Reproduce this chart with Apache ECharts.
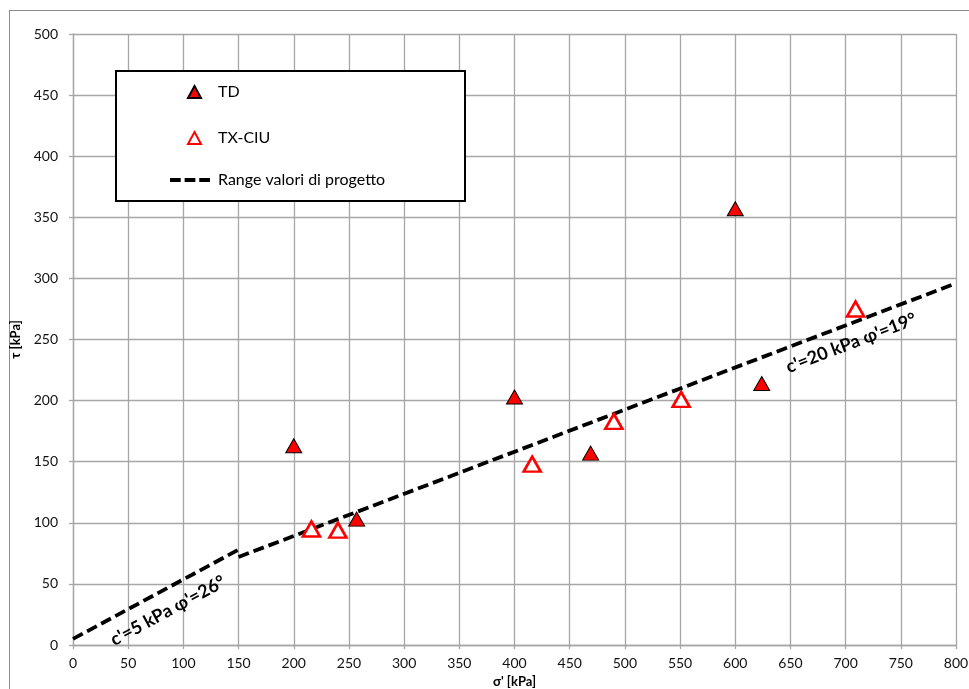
<!DOCTYPE html>
<html>
<head>
<meta charset="utf-8">
<script src="https://cdn.jsdelivr.net/npm/echarts@6/dist/echarts.min.js"></script>
<style>
  html, body { margin: 0; padding: 0; background: #fff; }
  #chart { width: 969px; height: 689px; }
</style>
</head>
<body>
<div id="chart"></div>
<script>
// Shear tests: effective normal stress sigma' vs shear stress tau (kPa)
const tdPoints = [[200, 163], [257, 103], [400, 203], [469, 157], [600, 357], [624, 214]];
const txCiuPoints = [[216, 95], [240, 94], [416, 148], [490, 183], [551, 201], [709, 275]];

// Design envelopes (end points of each segment)
const envelopeLow = [[0, 5], [150, 78]];      // c'=5 kPa, phi'=26°
const envelopeHigh = [[150, 72], [800, 296]]; // c'=20 kPa, phi'=19°

// Envelope captions: [sigma', tau, text, rotation in degrees]
const envelopeLabels = [
  [86, 28, "c'=5 kPa φ'=26°", 28.4],
  [705, 247, "c'=20 kPa φ'=19°", 20.9]
];

const seriesNames = ['TD', 'TX-CIU', 'Range valori di progetto'];
const xTicks = { min: 0, max: 800, interval: 50 };
const yTicks = { min: 0, max: 500, interval: 50 };

const FONT = 'Lato, "Open Sans", sans-serif';
const GRID_COLOR = '#a6a6a6';

const chart = echarts.init(document.getElementById('chart'), null, { renderer: 'canvas' });

const dashedLine = {
  color: '#000',
  width: 3.8,
  type: [11, 5],
  cap: 'butt'
};

const legendText = { fontFamily: FONT, fontSize: 16, color: '#000' };

chart.setOption({
  animation: false,
  backgroundColor: '#fff',
  grid: { left: 73, right: 13, top: 34, bottom: 44, containLabel: false, outerBoundsMode: 'none' },
  graphic: [
    // outer frame
    { type: 'line', shape: { x1: 9.5, y1: 10, x2: 9.5, y2: 689 }, style: { stroke: '#8c8c8c', lineWidth: 1 }, silent: true },
    { type: 'line', shape: { x1: 9, y1: 10.5, x2: 969, y2: 10.5 }, style: { stroke: '#8c8c8c', lineWidth: 1 }, silent: true },
    // legend box
    { type: 'rect', shape: { x: 116, y: 71, width: 349, height: 130 }, style: { fill: '#fff', stroke: '#000', lineWidth: 2 }, z: 10, silent: true }
  ],
  legend: [
    {
      data: [seriesNames[0], seriesNames[1]],
      orient: 'vertical',
      left: 187,
      top: 84,
      padding: 0,
      itemWidth: 13,
      itemHeight: 12,
      itemGap: 30,
      z: 20,
      textStyle: Object.assign({ padding: [0, 0, 0, 12] }, legendText),
      selectedMode: false
    },
    {
      data: [{
        name: seriesNames[2],
        icon: 'path://M0,0H11V4H0Z M15,0H26V4H15Z M30,0H41V4H30Z'
      }],
      orient: 'vertical',
      left: 170,
      top: 172,
      padding: 0,
      itemWidth: 40,
      itemHeight: 14,
      z: 20,
      textStyle: Object.assign({ padding: [0, 0, 0, 3] }, legendText),
      selectedMode: false
    }
  ],
  xAxis: {
    type: 'value',
    min: xTicks.min, max: xTicks.max, interval: xTicks.interval,
    name: "σ' [kPa]",
    nameLocation: 'middle',
    nameGap: 28,
    nameTextStyle: { fontFamily: FONT, fontSize: 13, fontWeight: 'bold', color: '#000' },
    axisLine: { show: true, lineStyle: { color: GRID_COLOR, width: 1.3 } },
    axisTick: { show: true, length: 4, lineStyle: { color: GRID_COLOR, width: 1.3 } },
    axisLabel: { fontFamily: FONT, fontSize: 14, color: '#111', margin: 11 },
    splitLine: { show: true, lineStyle: { color: GRID_COLOR, width: 1.3 } }
  },
  yAxis: {
    type: 'value',
    min: yTicks.min, max: yTicks.max, interval: yTicks.interval,
    name: 'τ [kPa]',
    nameLocation: 'middle',
    nameGap: 44,
    nameRotate: 90,
    nameTextStyle: { fontFamily: FONT, fontSize: 13, fontWeight: 'bold', color: '#000' },
    axisLine: { show: true, lineStyle: { color: GRID_COLOR, width: 1.3 } },
    axisTick: { show: true, length: 4, lineStyle: { color: GRID_COLOR, width: 1.3 } },
    axisLabel: { fontFamily: FONT, fontSize: 14, color: '#111', margin: 15 },
    splitLine: { show: true, lineStyle: { color: GRID_COLOR, width: 1.3 } }
  },
  series: [
    {
      name: seriesNames[2],
      type: 'line',
      data: envelopeLow,
      symbol: 'none',
      lineStyle: dashedLine,
      itemStyle: { color: '#000' },
      z: 3
    },
    {
      name: seriesNames[2],
      type: 'line',
      data: envelopeHigh,
      symbol: 'none',
      lineStyle: dashedLine,
      itemStyle: { color: '#000' },
      z: 3
    },
    {
      name: seriesNames[0],
      type: 'scatter',
      data: tdPoints,
      symbol: 'triangle',
      symbolSize: [16, 14],
      itemStyle: { color: '#ff0000', borderColor: '#000', borderWidth: 1, opacity: 1 },
      z: 5
    },
    {
      name: seriesNames[1],
      type: 'scatter',
      data: txCiuPoints,
      symbol: 'triangle',
      symbolSize: [17, 15],
      itemStyle: { color: '#fff', borderColor: '#ff0000', borderWidth: 2.6, opacity: 1 },
      z: 5
    },
    {
      name: 'envelope-labels',
      type: 'scatter',
      silent: true,
      symbolSize: 0,
      itemStyle: { color: '#000', opacity: 1 },
      data: envelopeLabels.map(d => ({
        value: [d[0], d[1]],
        label: {
          show: true,
          position: 'inside',
          formatter: d[2],
          rotate: d[3],
          fontFamily: FONT,
          fontSize: 18,
          fontWeight: 'bold',
          color: '#000',
          opacity: 1,
          textBorderWidth: 0,
          textBorderColor: 'transparent'
        }
      })),
      z: 4
    }
  ]
});
</script>
</body>
</html>
